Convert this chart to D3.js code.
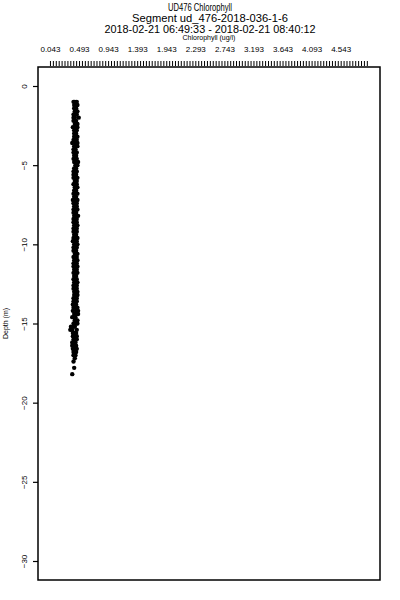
<!DOCTYPE html>
<html>
<head>
<meta charset="utf-8">
<script src="https://cdn.jsdelivr.net/npm/d3@7"></script>
<style>
  body { margin: 0; background: #fff; }
  text { font-family: "Liberation Sans", Arial, sans-serif; fill: #000; }
</style>
</head>
<body>
<div id="chart"></div>
<script>
// titles
var titleLines = ["UD476 Chlorophyll", "Segment ud_476-2018-036-1-6", "2018-02-21 06:49:33 - 2018-02-21 08:40:12"];
var xLabel = "Chlorophyll (ug/l)";
var yLabel = "Depth (m)";

// axis ticks
var xTickValues = [0.043, 0.493, 0.943, 1.393, 1.843, 2.293, 2.743, 3.193, 3.643, 4.093, 4.543];
var xTickLabels = ["0.043", "0.493", "0.943", "1.393", "1.943", "2.293", "2.743", "3.193", "3.643", "4.093", "4.543"];
var yTickValues = [0, -5, -10, -15, -20, -25, -30];

// depth grid (m) and chlorophyll from three passes through the column
var depth = [-1.0, -1.2, -1.4, -1.6, -1.8, -2.0, -2.2, -2.4, -2.6, -2.8,
  -3.0, -3.2, -3.4, -3.6, -3.8, -4.0, -4.2, -4.4, -4.6, -4.8,
  -5.0, -5.2, -5.4, -5.6, -5.8, -6.0, -6.2, -6.4, -6.6, -6.8,
  -7.0, -7.2, -7.4, -7.6, -7.8, -8.0, -8.2, -8.4, -8.6, -8.8,
  -9.0, -9.2, -9.4, -9.6, -9.8, -10.0, -10.2, -10.4, -10.6, -10.8,
  -11.0, -11.2, -11.4, -11.6, -11.8, -12.0, -12.2, -12.4, -12.6, -12.8,
  -13.0, -13.2, -13.4, -13.6, -13.8, -14.0, -14.2, -14.4, -14.6, -14.8,
  -15.0, -15.2, -15.4, -15.6, -15.8, -16.0, -16.2, -16.4, -16.6, -16.8,
  -17.0];
var chlA = [0.42, 0.41, 0.43, 0.44, 0.42, 0.40, 0.43, 0.45, 0.42, 0.41,
  0.43, 0.44, 0.42, 0.38, 0.41, 0.43, 0.45, 0.44, 0.42, 0.41,
  0.43, 0.42, 0.40, 0.44, 0.46, 0.43, 0.41, 0.42, 0.44, 0.43,
  0.41, 0.39, 0.42, 0.45, 0.44, 0.42, 0.41, 0.43, 0.42, 0.44,
  0.45, 0.43, 0.41, 0.40, 0.42, 0.44, 0.43, 0.41, 0.42, 0.45,
  0.44, 0.42, 0.40, 0.41, 0.43, 0.44, 0.42, 0.41, 0.43, 0.45,
  0.43, 0.41, 0.40, 0.42, 0.44, 0.42, 0.39, 0.41, 0.43, 0.42,
  0.40, 0.36, 0.38, 0.41, 0.43, 0.40, 0.38, 0.41, 0.42, 0.40,
  0.41];
var chlB = [0.45, 0.46, 0.44, 0.42, 0.45, 0.48, 0.44, 0.42, 0.46, 0.45,
  0.44, 0.41, 0.45, 0.46, 0.44, 0.42, 0.40, 0.43, 0.45, 0.47,
  0.44, 0.41, 0.45, 0.43, 0.40, 0.42, 0.45, 0.46, 0.41, 0.40,
  0.44, 0.46, 0.45, 0.41, 0.40, 0.44, 0.47, 0.45, 0.40, 0.41,
  0.42, 0.40, 0.44, 0.46, 0.45, 0.41, 0.40, 0.44, 0.46, 0.42,
  0.41, 0.45, 0.46, 0.44, 0.40, 0.41, 0.45, 0.46, 0.40, 0.42,
  0.46, 0.44, 0.45, 0.40, 0.41, 0.46, 0.44, 0.47, 0.38, 0.46,
  0.44, 0.42, 0.45, 0.44, 0.39, 0.45, 0.43, 0.38, 0.45, 0.44,
  0.43];
var chlC = [0.40, 0.43, 0.41, 0.46, 0.40, 0.42, 0.40, 0.46, 0.39, 0.43,
  0.41, 0.46, 0.40, 0.43, 0.46, 0.40, 0.43, 0.41, 0.40, 0.43,
  0.46, 0.44, 0.42, 0.40, 0.43, 0.45, 0.40, 0.44, 0.43, 0.46,
  0.42, 0.43, 0.40, 0.43, 0.46, 0.40, 0.43, 0.40, 0.45, 0.46,
  0.40, 0.45, 0.42, 0.43, 0.39, 0.46, 0.45, 0.40, 0.44, 0.40,
  0.46, 0.40, 0.43, 0.45, 0.46, 0.42, 0.40, 0.43, 0.45, 0.40,
  0.41, 0.46, 0.42, 0.45, 0.39, 0.40, 0.47, 0.43, 0.41, 0.44,
  0.46, 0.40, 0.35, 0.39, 0.45, 0.42, 0.40, 0.44, 0.39, 0.42,
  0.40];
// few deep samples below the main column
var tailDepth = [-17.2, -17.4, -17.8, -18.2];
var tailChl = [0.42, 0.40, 0.41, 0.38];

// set the dimensions and margins of the graph
var W = 400, H = 600;
var margin = {top: 67, right: 20, bottom: 20, left: 38},
    width = W - margin.left - margin.right,
    height = H - margin.top - margin.bottom;

var svg = d3.select("#chart")
  .append("svg")
    .attr("width", W)
    .attr("height", H)
  .append("g")
    .attr("transform", "translate(" + margin.left + "," + margin.top + ")");

var x = d3.scaleLinear()
    .domain([-0.15, 5.144])
    .range([0, width]);

var y = d3.scaleLinear()
    .domain([1.2, -31.2])
    .range([0, height]);

// build point list
var points = [];
depth.forEach(function(d, i) {
  points.push({d: d, c: chlA[i]});
  points.push({d: d, c: chlB[i]});
  points.push({d: d, c: chlC[i]});
});
tailDepth.forEach(function(d, i) { points.push({d: d, c: tailChl[i]}); });

// plot box
svg.append("rect")
    .attr("x", 0).attr("y", 0)
    .attr("width", width).attr("height", height)
    .attr("fill", "none")
    .attr("stroke", "#000")
    .attr("stroke-width", 1.5);

// top axis with minor ticks every 0.045
var minor = d3.range(0, 110).map(function(k) { return 0.043 + k * 0.045; });
var topG = svg.append("g").attr("transform", "translate(0,-1)");
topG.selectAll("line.minor")
  .data(minor)
  .enter()
  .append("line")
    .attr("x1", function(d) { return x(d); })
    .attr("x2", function(d) { return x(d); })
    .attr("y1", -5)
    .attr("y2", 0)
    .attr("stroke", "#000")
    .attr("stroke-width", 1);
topG.selectAll("text.tick")
  .data(xTickValues)
  .enter()
  .append("text")
    .attr("x", function(d) { return x(d); })
    .attr("y", -14)
    .attr("text-anchor", "middle")
    .style("font-size", "8px")
    .text(function(d, i) { return xTickLabels[i]; });

// left axis
var yAxis = svg.append("g")
    .call(d3.axisLeft(y).tickValues(yTickValues).tickSize(5).tickFormat(d3.format("d")));
yAxis.select(".domain").remove();
yAxis.selectAll("line").attr("stroke", "#000").attr("stroke-width", 1.2);
yAxis.selectAll("text")
    .attr("x", null)
    .attr("transform", "translate(-12,0) rotate(-90)")
    .attr("text-anchor", "middle")
    .attr("dy", "0.1em")
    .style("font-size", "8px")
    .style("font-family", "Liberation Sans, Arial, sans-serif")
    .attr("fill", "#000");

// dots
svg.append("g")
  .selectAll("dot")
  .data(points)
  .enter()
  .append("circle")
    .attr("cx", function(d) { return x(d.c); })
    .attr("cy", function(d) { return y(d.d); })
    .attr("r", 2.2)
    .style("fill", "#000");

// titles
var root = d3.select("svg");
var titleY = [11, 22, 33];
var titleX = [200, 210, 210];
var titleLen = [64, 156, 211];
titleLines.forEach(function(t, i) {
  root.append("text")
    .attr("x", titleX[i])
    .attr("y", titleY[i])
    .attr("text-anchor", "middle")
    .attr("textLength", titleLen[i])
    .attr("lengthAdjust", "spacingAndGlyphs")
    .style("font-size", "10.5px")
    .text(t);
});
root.append("text")
  .attr("x", 209)
  .attr("y", 40)
  .attr("text-anchor", "middle")
  .style("font-size", "7px")
  .text(xLabel);
root.append("text")
  .attr("transform", "translate(8," + (margin.top + height / 2) + ") rotate(-90)")
  .attr("text-anchor", "middle")
  .style("font-size", "7px")
  .text(yLabel);
</script>
</body>
</html>
